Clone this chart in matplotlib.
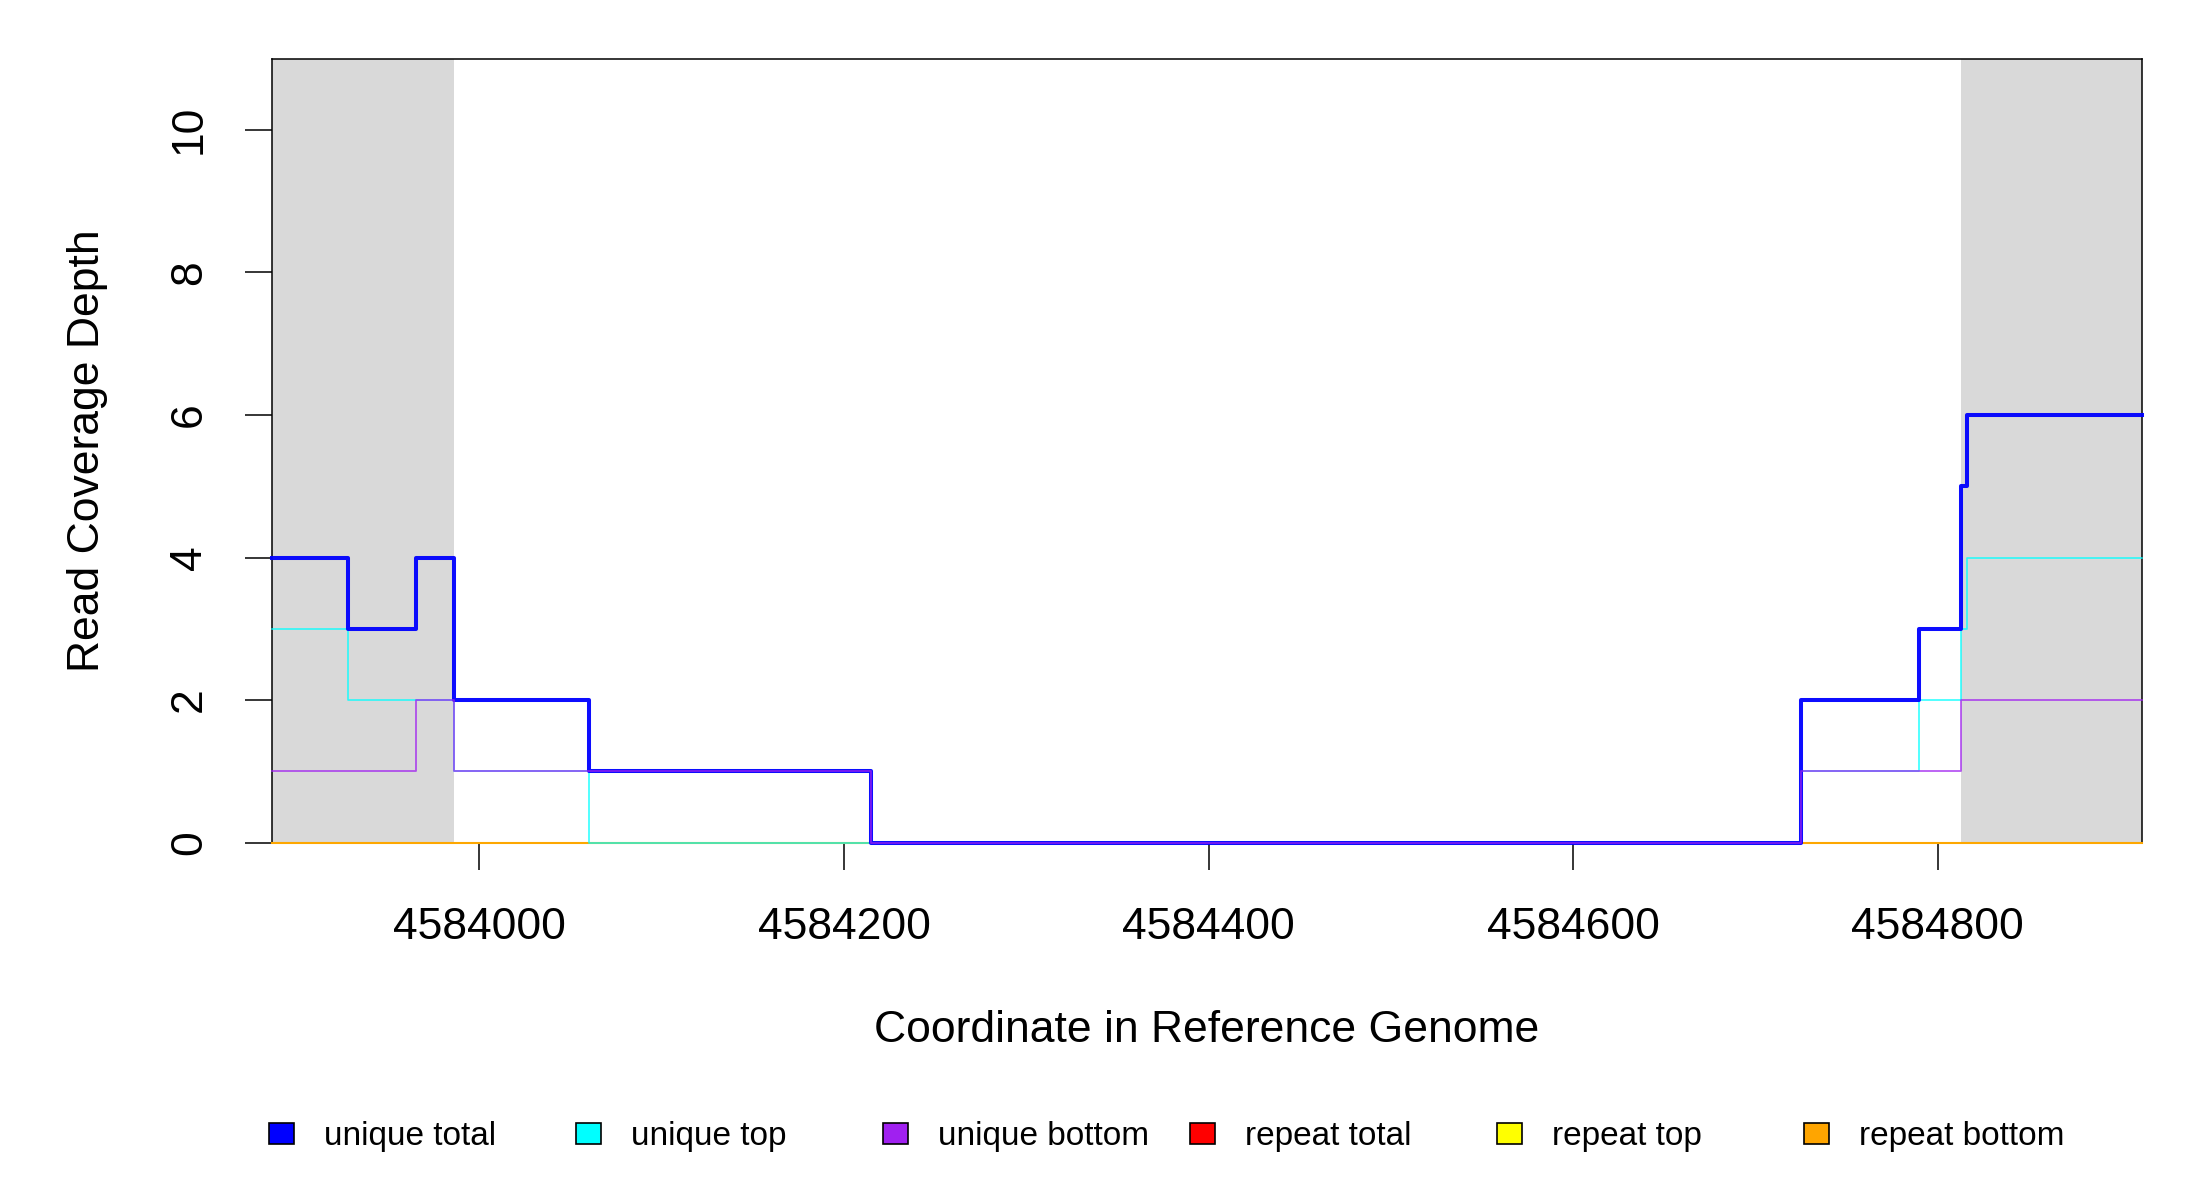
import matplotlib
matplotlib.use("Agg")
import matplotlib.pyplot as plt
from matplotlib.patches import Rectangle

plt.rcParams['font.family'] = ['Liberation Sans', 'DejaVu Sans']

# step breakpoints (left edge of each segment, last one closes the range)
positions = [4583886, 4583928, 4583965, 4583986, 4584060, 4584215,
             4584725, 4584790, 4584813, 4584816, 4584912]
unique_total = [4, 3, 4, 2, 1, 0, 2, 3, 5, 6, 6]
unique_top = [3, 2, 2, 1, 0, 0, 1, 2, 3, 4, 4]
unique_bottom = [1, 1, 2, 1, 1, 0, 1, 1, 2, 2, 2]
repeat_total = [0, 0, 0, 0, 0, 0, 0, 0, 0, 0, 0]
repeat_top = [0, 0, 0, 0, 0, 0, 0, 0, 0, 0, 0]
repeat_bottom = [0, 0, 0, 0, 0, 0, 0, 0, 0, 0, 0]

region_start = 4583986   # shaded flanks outside this window
region_end = 4584813
x_ticks = [4584000, 4584200, 4584400, 4584600, 4584800]
y_ticks = [0, 2, 4, 6, 8, 10]

legend_labels = ["unique total", "unique top", "unique bottom",
                 "repeat total", "repeat top", "repeat bottom"]
legend_colors = ["#0000FF", "#00FFFF", "#A020F0", "#FF0000", "#FFFF00", "#FFA500"]

W, H = 2200, 1200
fig = plt.figure(figsize=(22, 12), dpi=100)
fig.patch.set_facecolor("white")

def fx(px):
    return px / W

def fy(py):
    return 1 - py / H

ax = fig.add_axes([fx(271.7), fy(842.7), fx(2141.7) - fx(271.7), fy(58.5) - fy(842.7)])

xmin, xmax = positions[0], positions[-1]
ax.set_xlim(xmin, xmax)
ax.set_ylim(0, 11)

# grey flanks
ax.axvspan(xmin, region_start, color="#D9D9D9", lw=0, zorder=0)
ax.axvspan(region_end, xmax, color="#D9D9D9", lw=0, zorder=0)

# repeats first, uniques on top
ax.step(positions, repeat_total, where="post", color="#FF0000", lw=1.3, alpha=0.8, zorder=2, clip_on=False)
ax.step(positions, repeat_top, where="post", color="#FFFF00", lw=1.3, alpha=0.8, zorder=2, clip_on=False)
ax.step(positions, repeat_bottom, where="post", color="#FFA500", lw=1.5, alpha=0.9, zorder=2, clip_on=False)
ax.step(positions, unique_top, where="post", color="#00FFFF", lw=1.2, alpha=0.8, zorder=3, clip_on=False)
ax.step(positions, unique_total, where="post", color="#0000FF", lw=2.9, alpha=0.95, zorder=3, clip_on=False)
ax.step(positions, unique_bottom, where="post", color="#A020F0", lw=1.3, alpha=0.75, zorder=4, clip_on=False)

for s in ax.spines.values():
    s.set_linewidth(1.1)
    s.set_color("black")
    s.set_zorder(1)

ax.set_xticks(x_ticks)
ax.set_xticklabels([str(v) for v in x_ticks])
ax.set_yticks(y_ticks)
ax.set_yticklabels([str(v) for v in y_ticks])
ax.tick_params(axis="both", direction="out", length=19.5, width=1.1,
               labelsize=32, color="black")
ax.tick_params(axis="x", pad=27)
ax.tick_params(axis="y", pad=25, labelrotation=90)
for lab in ax.get_yticklabels():
    lab.set_va("center")

fig.text(fx((271.7 + 2141.7) / 2), fy(1030), "Coordinate in Reference Genome",
         ha="center", va="center", fontsize=32)
fig.text(fx(88), fy((58.5 + 842.7) / 2), "Read Coverage Depth",
         ha="center", va="center", rotation=90, fontsize=32)

# legend row below the plot
for i, (lab, col) in enumerate(zip(legend_labels, legend_colors)):
    cx = 281 + i * 307
    fig.patches.append(Rectangle((fx(cx - 12.5), fy(1143.5)), fx(25), 21 / H,
                                 transform=fig.transFigure, facecolor=col,
                                 edgecolor="black", lw=1.2))
    fig.text(fx(cx + 43), fy(1145), lab, ha="left", va="baseline", fontsize=24)

fig.savefig("out.png", dpi=100)
